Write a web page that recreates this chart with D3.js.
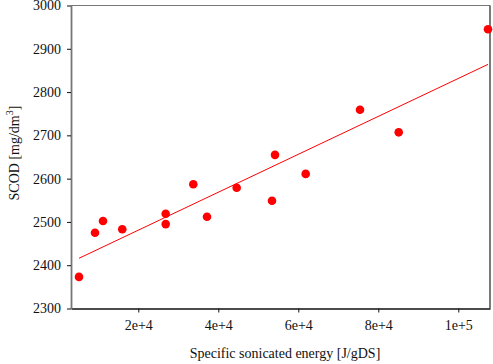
<!DOCTYPE html>
<html><head><meta charset="utf-8">
<script src="https://cdn.jsdelivr.net/npm/d3@7"></script>
<style>html,body{margin:0;padding:0;background:#fff;}svg{display:block;}</style>
</head><body>
<svg id="c" width="493" height="364"></svg>
<script>
const energy = [5175, 9175, 11175, 15990, 26850, 26850, 33750, 37175, 44600, 53425, 54175, 61850, 75425, 85100, 107425];
const scod   = [2373, 2475, 2502, 2483, 2519, 2495, 2587, 2512, 2579, 2549, 2655, 2611, 2759, 2707, 2945];
const fitX = [5175, 107425];
const fitY = [2416, 2864];
const xTicks = [20000, 40000, 60000, 80000, 100000];
const xTickLabels = ["2e+4", "4e+4", "6e+4", "8e+4", "1e+5"];
const yTicks = [2300, 2400, 2500, 2600, 2700, 2800, 2900, 3000];
const xTitle = "Specific sonicated energy [J/gDS]";

const L = 71, R = 490, T = 5.5, B = 308.5;
const svg = d3.select("#c");
const font = "'Liberation Serif','Times New Roman',serif";
const x = d3.scaleLinear().domain([3175, 107925]).range([L, R]);
const y = d3.scaleLinear().domain([2300, 3000]).range([B, T]);

// frame top/right
svg.append("line").attr("x1", L).attr("x2", R).attr("y1", T).attr("y2", T).attr("stroke", "#777").attr("stroke-width", 1.2);
svg.append("line").attr("x1", R).attr("x2", R).attr("y1", T).attr("y2", B).attr("stroke", "#222").attr("stroke-width", 1.2);

const xAxis = svg.append("g").attr("transform", `translate(0,${B})`)
  .call(d3.axisBottom(x).tickValues(xTicks).tickSize(4).tickSizeOuter(0).tickPadding(8)
    .tickFormat((d, i) => xTickLabels[i]));
xAxis.select(".domain").attr("stroke", "#111").attr("stroke-width", 1.4);
xAxis.selectAll(".tick line").attr("stroke", "#111");
xAxis.selectAll("text").attr("font-family", font).attr("font-size", 14).attr("fill", "#111");

const yAxis = svg.append("g").attr("transform", `translate(${L},0)`)
  .call(d3.axisLeft(y).tickValues(yTicks).tickSize(4).tickSizeOuter(0).tickPadding(6)
    .tickFormat(d3.format("d")));
yAxis.select(".domain").attr("stroke", "#777").attr("stroke-width", 1.8);
yAxis.selectAll(".tick line").attr("stroke", "#111");
yAxis.selectAll("text").attr("font-family", font).attr("font-size", 14).attr("fill", "#111");

// regression line
svg.append("line")
  .attr("x1", x(fitX[0])).attr("y1", y(fitY[0]))
  .attr("x2", x(fitX[1])).attr("y2", y(fitY[1]))
  .attr("stroke", "#ff0000").attr("stroke-width", 1);

// points
svg.append("g").selectAll("circle").data(energy).join("circle")
  .attr("cx", d => x(d)).attr("cy", (d, i) => y(scod[i])).attr("r", 4.3)
  .attr("fill", "#ff0000");

// titles
svg.append("text").attr("x", 285).attr("y", 358).attr("text-anchor", "middle")
  .attr("font-family", font).attr("font-size", 14).attr("fill", "#111").text(xTitle);

const yt = svg.append("text").attr("transform", "translate(19,153) rotate(-90)")
  .attr("text-anchor", "middle").attr("font-family", font).attr("font-size", 14).attr("fill", "#111");
yt.append("tspan").text("SCOD [mg/dm");
yt.append("tspan").attr("font-size", 10).attr("dy", -6).text("3");
yt.append("tspan").attr("dy", 6).text("]");
</script>
</body></html>
